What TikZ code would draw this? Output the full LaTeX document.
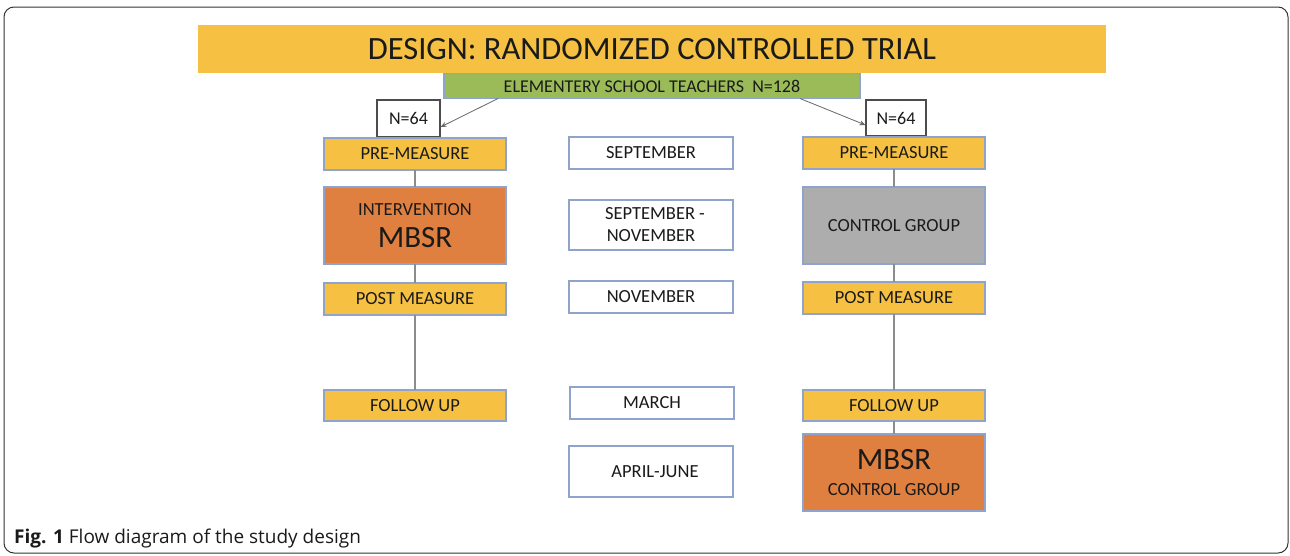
\documentclass[tikz,border=0pt]{standalone}
\usepackage{fontspec}
\setmainfont{Carlito}
\newfontfamily\capfont{Open Sans}
\usetikzlibrary{arrows.meta}
\definecolor{titleor}{HTML}{F6C143}
\definecolor{greenb}{HTML}{9BBB59}
\definecolor{mbsror}{HTML}{E08040}
\definecolor{grayb}{HTML}{ADADAD}
\definecolor{bordb}{HTML}{8FA4CC}
\definecolor{conn}{HTML}{8C8C8C}
\definecolor{txt}{HTML}{1A1A1A}
\tikzset{
  boxbase/.style={draw=bordb, line width=1.1pt, inner sep=0pt, outer sep=0pt, text=txt, align=center, font=\fontsize{18.5}{22}\selectfont},
  ybox/.style={boxbase, fill=titleor, minimum width=182pt, minimum height=32pt},
  wbox/.style={boxbase, fill=white, minimum width=164pt},
  nbox/.style={draw=black!70, line width=1.1pt, fill=white, inner sep=0pt, text=txt, font=\fontsize{18}{21}\selectfont},
  link/.style={draw=conn, line width=1.1pt},
  splitarrow/.style={draw=black!60, line width=0.8pt, -{Stealth[length=6pt,width=5pt]}}
}
\begin{document}
\begin{tikzpicture}[x=1pt,y=-1pt]
\useasboundingbox (0,0) rectangle (1290,555);
% outer frame
\draw[black!80, line width=1pt, rounded corners=10pt] (4,7) rectangle (1288,553);
% title
\node[fill=titleor, minimum width=908pt, minimum height=48pt, inner sep=0pt, text=txt, font=\fontsize{32.5}{36}\selectfont] (title) at (652,49)
  {DESIGN: RANDOMIZED CONTROLLED TRIAL};
% teachers
\node[boxbase, fill=greenb, minimum width=416pt, minimum height=25pt, font=\fontsize{18}{20}\selectfont] (teach) at (652,86)
  {ELEMENTERY SCHOOL TEACHERS\ \ N=128};
% N=64 boxes
\node[nbox, minimum width=63pt, minimum height=37pt] (nl) at (408.5,118.5) {N=64};
\node[nbox, minimum width=60pt, minimum height=36pt] (nr) at (896,118) {N=64};
\coordinate (tl) at (498,98.5);
\coordinate (tr) at (800,98.5);
\draw[splitarrow] (tl) -- (nl.east |- 0,127);
\draw[splitarrow] (tr) -- (nr.west |- 0,125);
% left column
\node[ybox] (pre1) at (415,154) {PRE-MEASURE};
\node[boxbase, fill=mbsror, minimum width=182pt, minimum height=77pt] (int) at (415,225.5)
  {INTERVENTION\\[10pt]{\fontsize{31}{34}\selectfont MBSR}};
\node[ybox] (post1) at (415,299) {POST MEASURE};
\node[ybox, minimum height=31pt] (fu1) at (415,405.5) {FOLLOW UP};
\draw[link] (pre1) -- (int);
\draw[link] (int) -- (post1);
\draw[link] (post1) -- (fu1);
% middle column
\node[wbox, minimum height=32pt] (sep) at (651,153) {SEPTEMBER};
\node[wbox, minimum height=50pt] (sepnov) at (651,225) {\hspace*{8pt}SEPTEMBER -\\NOVEMBER};
\node[wbox, minimum height=32pt] (nov) at (651,297) {NOVEMBER};
\node[wbox, minimum height=32pt] (mar) at (652,403) {MARCH};
\node[wbox, minimum height=51pt] (apr) at (651,471.5) {\hspace*{8pt}APRIL-JUNE};
% right column
\node[ybox] (pre2) at (894,153) {PRE-MEASURE};
\node[boxbase, fill=grayb, minimum width=182pt, minimum height=77pt] (ctrl) at (894,225.5) {CONTROL GROUP};
\node[ybox] (post2) at (894,298) {POST MEASURE};
\node[ybox, minimum height=31pt] (fu2) at (894,405.5) {FOLLOW UP};
\node[boxbase, fill=mbsror, minimum width=182pt, minimum height=77pt] (mbsr2) at (894,472.5)
  {{\fontsize{31}{34}\selectfont MBSR}\\[4pt]CONTROL GROUP};
\draw[link] (pre2) -- (ctrl);
\draw[link] (ctrl) -- (post2);
\draw[link] (post2) -- (fu2);
\draw[link] (fu2) -- (mbsr2);
% caption
\node[anchor=base west, inner sep=0pt, text=txt, font=\capfont\fontsize{19}{22}\selectfont] (cap) at (14,543)
  {\textbf{Fig. 1} Flow diagram of the study design};
\end{tikzpicture}
\end{document}
